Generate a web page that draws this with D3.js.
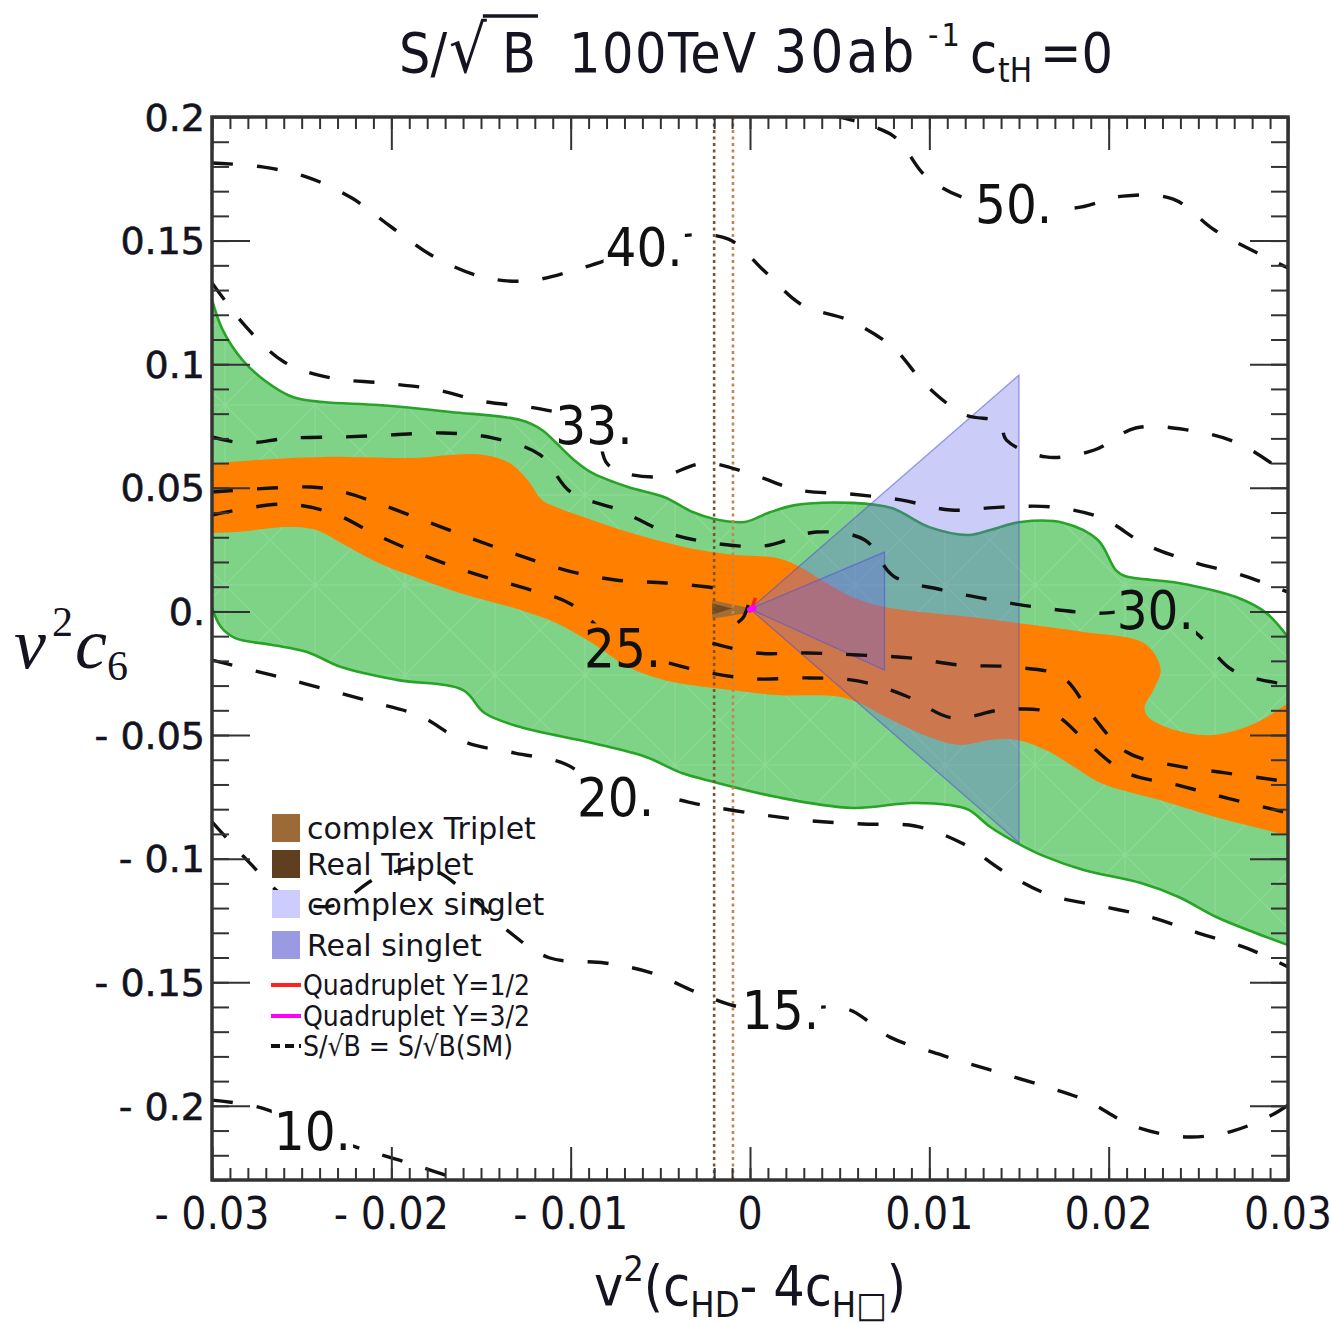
<!DOCTYPE html>
<html><head><meta charset="utf-8">
<script src="https://cdnjs.cloudflare.com/ajax/libs/d3/7.8.5/d3.min.js"></script>
<style>
body{margin:0;background:#fff;}
svg{display:block;}
.cond{font-family:"DejaVu Sans Condensed","DejaVu Sans",sans-serif;font-stretch:condensed;}
</style></head><body>
<svg id="chart" width="1331" height="1324"></svg>
<script>
// ---------------- data ----------------
const xDomain = [-0.03, 0.03];
const yDomain = [-0.23, 0.2];
const xTicks = [-0.03, -0.02, -0.01, 0, 0.01, 0.02, 0.03];
const xTickLabels = ["- 0.03", "- 0.02", "- 0.01", "0", "0.01", "0.02", "0.03"];
const yTicks = [0.2, 0.15, 0.1, 0.05, 0, -0.05, -0.1, -0.15, -0.2];
const yTickLabels = ["0.2", "0.15", "0.1", "0.05", "0.", "- 0.05", "- 0.1", "- 0.15", "- 0.2"];

// band boundaries, all listed left -> right
const greenUpper = [[-0.03,0.1260],[-0.0294,0.1138],[-0.0283,0.1017],[-0.0271,0.0936],[-0.0255,0.0867],[-0.0238,0.0847],[-0.0207,0.0835],[-0.0167,0.0807],[-0.0128,0.0774],[-0.0116,0.0734],[-0.0108,0.0681],[-0.0098,0.0612],[-0.0088,0.0560],[-0.0068,0.0503],[-0.0048,0.0463],[-0.0032,0.0402],[-0.0020,0.0374],[-0.0003,0.0362],[0.0010,0.0398],[0.0025,0.0430],[0.0057,0.0439],[0.0079,0.0418],[0.0100,0.0341],[0.0122,0.0309],[0.0134,0.0329],[0.0151,0.0362],[0.0175,0.0358],[0.0194,0.0289],[0.0204,0.0167],[0.0209,0.0143],[0.0239,0.0115],[0.0271,0.0058],[0.0288,-0.0007],[0.0300,-0.0104]];
const greenLower = [[-0.03,0.0014],[-0.0295,-0.0063],[-0.0287,-0.0108],[-0.0267,-0.0135],[-0.0247,-0.0164],[-0.0228,-0.0225],[-0.0197,-0.0277],[-0.0160,-0.0318],[-0.0148,-0.0411],[-0.0128,-0.0468],[-0.0088,-0.0532],[-0.0058,-0.0589],[-0.0038,-0.0654],[-0.0020,-0.0690],[0.0015,-0.0751],[0.0057,-0.0795],[0.0090,-0.0775],[0.0111,-0.0783],[0.0122,-0.0803],[0.0134,-0.0872],[0.0149,-0.0937],[0.0165,-0.0993],[0.0186,-0.1046],[0.0218,-0.1099],[0.0239,-0.1155],[0.0260,-0.1236],[0.0282,-0.1301],[0.0300,-0.1350]];

const orangeUpper = [[-0.03,0.0599],[-0.0277,0.0612],[-0.0238,0.0625],[-0.0187,0.0621],[-0.0167,0.0633],[-0.0148,0.0633],[-0.0134,0.0600],[-0.0124,0.0532],[-0.0116,0.0451],[-0.0108,0.0422],[-0.0088,0.0370],[-0.0068,0.0321],[-0.0048,0.0281],[-0.0028,0.0248],[-0.0008,0.0228],[0.0015,0.0216],[0.0028,0.0180],[0.0040,0.0127],[0.0057,0.0058],[0.0075,0.0018],[0.0122,-0.0022],[0.0149,-0.0047],[0.0186,-0.0083],[0.0216,-0.0116],[0.0224,-0.0156],[0.0229,-0.0237],[0.0225,-0.0318],[0.0220,-0.0387],[0.0222,-0.0427],[0.0237,-0.0480],[0.0258,-0.0500],[0.0282,-0.0451],[0.0300,-0.0370]];
const orangeLower = [[-0.03,0.0317],[-0.0287,0.0321],[-0.0257,0.0341],[-0.0242,0.0329],[-0.0228,0.0277],[-0.0207,0.0196],[-0.0187,0.0139],[-0.0167,0.0087],[-0.0148,0.0046],[-0.0128,0.0006],[-0.0108,-0.0047],[-0.0088,-0.0128],[-0.0068,-0.0225],[-0.0048,-0.0277],[-0.0020,-0.0310],[0.0015,-0.0338],[0.0053,-0.0350],[0.0079,-0.0439],[0.0100,-0.0508],[0.0117,-0.0540],[0.0134,-0.0520],[0.0149,-0.0520],[0.0165,-0.0561],[0.0181,-0.0630],[0.0196,-0.0695],[0.0229,-0.0764],[0.0260,-0.0833],[0.0300,-0.0906]];

const complexSinglet = [[0.0000,0.0010],[0.0150,0.0956],[0.0150,-0.0936]];
const realSinglet = [[0.0000,0.0010],[0.0075,0.0240],[0.0075,-0.0237]];
const complexTriplet = [[-0.0021,0.0045],[-0.0003,0.0018],[0.0000,0.0008],[-0.0003,-0.0008],[-0.0021,-0.0030]];
const realTriplet = [[-0.0021,0.0032],[-0.0010,0.0012],[-0.0021,-0.0012]];
const quadruplet12 = [[0.0001,0.0010],[0.0003,0.0055]];
const quadruplet32 = [[0.0000,0.0007],[0.0002,0.0013]];
const tripletBounds = [-0.0020, -0.00095];

const contour40 = [[-0.03,0.1814],[-0.0272,0.1798],[-0.0247,0.1757],[-0.0222,0.1672],[-0.0200,0.1555],[-0.0176,0.1434],[-0.0149,0.1353],[-0.0124,0.1337],[-0.0094,0.1389],[-0.0059,0.1474],[-0.0039,0.1519],[-0.0012,0.1506],[0.0008,0.1377],[0.0029,0.1240],[0.0056,0.1175],[0.0080,0.1066],[0.0098,0.0916],[0.0120,0.0795],[0.0139,0.0766],[0.0143,0.0693],[0.0165,0.0625],[0.0192,0.0653],[0.0215,0.0742],[0.0244,0.0734],[0.0272,0.0681],[0.0296,0.0572],[0.0300,0.0548]];
const contour50 = [[0.0047,0.2005],[0.0080,0.1923],[0.0098,0.1761],[0.0120,0.1672],[0.0147,0.1651],[0.0181,0.1632],[0.0208,0.1680],[0.0236,0.1668],[0.0259,0.1543],[0.0284,0.1446],[0.0300,0.1389]];
const contour33 = [[-0.03,0.1329],[-0.0281,0.1151],[-0.0260,0.1010],[-0.0234,0.0945],[-0.0205,0.0924],[-0.0177,0.0900],[-0.0150,0.0851],[-0.0117,0.0819],[-0.0087,0.0754],[-0.0079,0.0592],[-0.0052,0.0544],[-0.0025,0.0600],[0.0002,0.0552],[0.0027,0.0491],[0.0056,0.0475],[0.0084,0.0451],[0.0112,0.0410],[0.0140,0.0422],[0.0169,0.0422],[0.0196,0.0378],[0.0221,0.0269],[0.0247,0.0200],[0.0276,0.0143],[0.0300,0.0078]];
const contour30 = [[-0.03,0.0706],[-0.0282,0.0681],[-0.0257,0.0701],[-0.0226,0.0706],[-0.0200,0.0714],[-0.0171,0.0722],[-0.0143,0.0701],[-0.0117,0.0633],[-0.0100,0.0483],[-0.0073,0.0410],[-0.0047,0.0321],[-0.0021,0.0277],[0.0008,0.0265],[0.0037,0.0321],[0.0064,0.0289],[0.0080,0.0143],[0.0107,0.0087],[0.0135,0.0046],[0.0163,0.0014],[0.0192,-0.0007],[0.0226,-0.0002],[0.0248,-0.0083],[0.0269,-0.0237],[0.0294,-0.0290],[0.0300,-0.0298]];
const contour25a = [[-0.03,0.0483],[-0.0267,0.0499],[-0.0245,0.0503],[-0.0231,0.0491],[-0.0211,0.0447],[-0.0184,0.0374],[-0.0156,0.0297],[-0.0131,0.0232],[-0.0103,0.0167],[-0.0075,0.0127],[-0.0047,0.0115],[-0.0020,0.0095],[-0.0008,0.0078]];
const contour25arc = [[-0.0001,0.0026],[-0.0004,-0.0027],[-0.0009,-0.0055]];
const contour25b = [[-0.0021,-0.0128],[0.0003,-0.0168],[0.0032,-0.0168],[0.0060,-0.0176],[0.0089,-0.0188],[0.0117,-0.0217],[0.0147,-0.0225],[0.0174,-0.0265],[0.0191,-0.0423],[0.0210,-0.0569],[0.0238,-0.0625],[0.0265,-0.0653],[0.0293,-0.0682],[0.0300,-0.0690]];
const contour25c = [[-0.03,0.0390],[-0.0260,0.0434],[-0.0233,0.0398],[-0.0207,0.0305],[-0.0181,0.0224],[-0.0153,0.0151],[-0.0126,0.0095],[-0.0100,0.0030],[-0.0071,-0.0148],[-0.0045,-0.0209],[-0.0022,-0.0249],[0.0003,-0.0273],[0.0032,-0.0269],[0.0060,-0.0281],[0.0087,-0.0342],[0.0113,-0.0431],[0.0141,-0.0398],[0.0168,-0.0411],[0.0190,-0.0544],[0.0210,-0.0653],[0.0238,-0.0702],[0.0266,-0.0755],[0.0293,-0.0803],[0.0300,-0.0815]];
const contour20 = [[-0.03,-0.0197],[-0.0267,-0.0257],[-0.0239,-0.0310],[-0.0211,-0.0366],[-0.0184,-0.0423],[-0.0159,-0.0528],[-0.0131,-0.0573],[-0.0103,-0.0617],[-0.0075,-0.0750],[-0.0050,-0.0750],[-0.0024,-0.0787],[0.0007,-0.0823],[0.0035,-0.0848],[0.0063,-0.0860],[0.0092,-0.0868],[0.0118,-0.0937],[0.0142,-0.1054],[0.0167,-0.1147],[0.0195,-0.1191],[0.0223,-0.1236],[0.0250,-0.1301],[0.0277,-0.1362],[0.0300,-0.1438]];
const contour15 = [[-0.03,-0.0851],[-0.0279,-0.1017],[-0.0258,-0.1159],[-0.0233,-0.1191],[-0.0208,-0.1078],[-0.0180,-0.1038],[-0.0156,-0.1151],[-0.0135,-0.1292],[-0.0112,-0.1401],[-0.0081,-0.1422],[-0.0055,-0.1462],[-0.0029,-0.1543],[-0.0006,-0.1600],[0.0017,-0.1612],[0.0054,-0.1608],[0.0078,-0.1722],[0.0107,-0.1795],[0.0134,-0.1855],[0.0162,-0.1916],[0.0187,-0.1977],[0.0214,-0.2082],[0.0244,-0.2126],[0.0269,-0.2102],[0.0291,-0.2037],[0.0300,-0.1997]];
const contour10 = [[-0.03,-0.1977],[-0.0272,-0.2009],[-0.0244,-0.2098],[-0.0218,-0.2171],[-0.0190,-0.2232],[-0.0163,-0.2300],[-0.0155,-0.2330]];
const contours = [contour40, contour50, contour33, contour30, contour25a, contour25arc, contour25b, contour25c, contour20, contour15, contour10];

const contourLabels = ["40.", "50.", "33.", "30.", "25.", "20.", "15.", "10."];
const contourLabelX = [-0.0059, 0.0147, -0.0087, 0.0226, -0.0071, -0.0075, 0.0017, -0.0244];
const contourLabelY = [0.1474, 0.1651, 0.0754, 0.0006, -0.0148, -0.0750, -0.1612, -0.2098];

const legendLabels = ["complex Triplet", "Real Triplet", "complex singlet", "Real singlet", "Quadruplet Y=1/2", "Quadruplet Y=3/2", "S/\u221AB = S/\u221AB(SM)"];

// ---------------- styles ----------------
const C = {
  green: "#7ed387", greenLine: "#27a327", orange: "#ff8000",
  singlet: "rgb(100,100,235)", singletEdge: "rgb(80,80,215)",
  cTrip: "#9c6a36", rTrip: "#5e3f1f",
  dotA: "#7a5533", dotB: "#c08850",
  quad12: "#ff2020", quad32: "#ff00ff", ink: "#141420", axis: "#333"
};
const legendKinds = ["rect","rect","rect","rect","line","line","dash"];
const legendColors = [C.cTrip, C.rTrip, "#ccccff", "#9a9ae2", C.quad12, C.quad32, "#111"];

// ---------------- setup ----------------
const L = 212, R = 1288, T = 117, B = 1180;
const svg = d3.select("#chart");
const x = d3.scaleLinear().domain(xDomain).range([L, R]);
const y = d3.scaleLinear().domain(yDomain).range([B, T]);
const defs = svg.append("defs");
defs.append("clipPath").attr("id", "clip").append("rect").attr("x", L).attr("y", T).attr("width", R - L).attr("height", B - T);

const smooth = d3.line().x(d => x(d[0])).y(d => y(d[1])).curve(d3.curveCatmullRom.alpha(0.5));
const straight = d3.line().x(d => x(d[0])).y(d => y(d[1]));
function region(up, low) {
  return smooth(up) + smooth(low.slice().reverse()).replace(/^M/, "L") + "Z";
}

const plot = svg.append("g").attr("clip-path", "url(#clip)");

// green band
const greenD = region(greenUpper, greenLower);
plot.append("path").attr("d", greenD).attr("fill", C.green).attr("stroke", "none");
const mesh = defs.append("pattern").attr("id", "mesh").attr("patternUnits", "userSpaceOnUse").attr("width", 90).attr("height", 90);
mesh.append("path").attr("d", "M0,0L90,90M90,0L0,90M45,0V90M0,45H90").attr("stroke", "#ffffff").attr("stroke-opacity", 0.13).attr("stroke-width", 1.2);
plot.append("path").attr("d", greenD).attr("fill", "url(#mesh)");
plot.append("path").attr("d", smooth(greenUpper)).attr("fill", "none").attr("stroke", C.greenLine).attr("stroke-width", 2.6);
plot.append("path").attr("d", smooth(greenLower)).attr("fill", "none").attr("stroke", C.greenLine).attr("stroke-width", 2.6);

// orange band
plot.append("path").attr("d", region(orangeUpper, orangeLower)).attr("fill", C.orange);

// singlet triangles
[complexSinglet, realSinglet].forEach(tri => {
  plot.append("path").attr("d", straight(tri) + "Z")
    .attr("fill", C.singlet).attr("fill-opacity", 0.33)
    .attr("stroke", C.singletEdge).attr("stroke-opacity", 0.55).attr("stroke-width", 1.3);
});

// triplets
plot.append("path").attr("d", straight(complexTriplet) + "Z").attr("fill", C.cTrip).attr("fill-opacity", 0.9);
plot.append("path").attr("d", straight(realTriplet) + "Z").attr("fill", C.rTrip).attr("fill-opacity", 0.75);

// dotted triplet bounds
tripletBounds.forEach((v, i) => {
  plot.append("line").attr("x1", x(v)).attr("x2", x(v)).attr("y1", T).attr("y2", B)
    .attr("stroke", i === 0 ? C.dotA : C.dotB).attr("stroke-width", 2.6).attr("stroke-dasharray", "3,3.5");
});

// contours (masked around labels)
const contourG = plot.append("g").attr("mask", "url(#lblmask)");
contours.forEach(c => {
  contourG.append("path").attr("d", smooth(c)).attr("fill", "none")
    .attr("stroke", "#111").attr("stroke-width", 3.4).attr("stroke-dasharray", "21,24");
});

// quadruplets
plot.append("path").attr("d", straight(quadruplet12)).attr("stroke", C.quad12).attr("stroke-width", 3.5).attr("fill", "none");
plot.append("path").attr("d", straight(quadruplet32)).attr("stroke", C.quad32).attr("stroke-width", 6).attr("stroke-linecap", "round").attr("fill", "none");

// contour labels
const lblG = svg.append("g").attr("class", "cond").attr("font-size", 54).attr("fill", "#111");
const lbls = lblG.selectAll("text").data(contourLabels).join("text")
  .attr("x", (d, i) => x(contourLabelX[i])).attr("y", (d, i) => y(contourLabelY[i]))
  .attr("text-anchor", "middle").attr("dy", "0.36em").text(d => d);
const mask = defs.append("mask").attr("id", "lblmask").attr("maskUnits", "userSpaceOnUse")
  .attr("x", 0).attr("y", 0).attr("width", 1331).attr("height", 1324);
mask.append("rect").attr("x", 0).attr("y", 0).attr("width", 1331).attr("height", 1324).attr("fill", "white");
lbls.each(function () {
  const b = this.getBBox();
  mask.append("rect").attr("x", b.x - 2).attr("y", b.y + 6).attr("width", b.width + 4).attr("height", b.height - 12).attr("fill", "black");
});

// ---------------- axes ----------------
const xMinor = d3.range(-30, 31).map(v => v / 1000);
const yMinor = d3.range(-23, 21).map(v => v / 100);
function clean(g) { g.select(".domain").remove(); g.selectAll("line").attr("stroke", C.axis).attr("stroke-width", 2); g.selectAll("text").remove(); }
svg.append("g").attr("transform", `translate(0,${B})`).call(d3.axisBottom(x).tickValues(xMinor).tickSize(-12)).call(clean);
svg.append("g").attr("transform", `translate(0,${B})`).call(d3.axisBottom(x).tickValues(xTicks).tickSize(-33)).call(clean);
svg.append("g").attr("transform", `translate(0,${T})`).call(d3.axisTop(x).tickValues(xMinor).tickSize(-12)).call(clean);
svg.append("g").attr("transform", `translate(0,${T})`).call(d3.axisTop(x).tickValues(xTicks).tickSize(-33)).call(clean);
svg.append("g").attr("transform", `translate(${L},0)`).call(d3.axisLeft(y).tickValues(yMinor).tickSize(-17)).call(clean);
svg.append("g").attr("transform", `translate(${L},0)`).call(d3.axisLeft(y).tickValues(yTicks).tickSize(-38)).call(clean);
svg.append("g").attr("transform", `translate(${R},0)`).call(d3.axisRight(y).tickValues(yMinor).tickSize(-17)).call(clean);
svg.append("g").attr("transform", `translate(${R},0)`).call(d3.axisRight(y).tickValues(yTicks).tickSize(-38)).call(clean);
svg.append("rect").attr("x", L).attr("y", T).attr("width", R - L).attr("height", B - T)
  .attr("fill", "none").attr("stroke", C.axis).attr("stroke-width", 3.5);

// tick labels
svg.append("g").attr("class", "cond").attr("font-size", 44).attr("fill", C.ink)
  .selectAll("text").data(xTicks).join("text")
  .attr("x", d => x(d)).attr("y", 1229).attr("text-anchor", "middle").text((d, i) => xTickLabels[i]);
svg.append("g").attr("font-family", "DejaVu Sans, sans-serif").attr("font-size", 38).attr("fill", C.ink)
  .attr("stroke", C.ink).attr("stroke-width", 0.6)
  .selectAll("text").data(yTicks).join("text")
  .attr("x", 205).attr("y", d => y(d)).attr("dy", "0.36em").attr("text-anchor", "end").text((d, i) => yTickLabels[i]);

// ---------------- title ----------------
const title = svg.append("text").attr("class", "cond").attr("y", 72).attr("font-size", 55).attr("fill", C.ink);
title.append("tspan").attr("x", 399).text("S/");
title.append("tspan").attr("x", 449).attr("font-size", 66).text("\u221A");
title.append("tspan").attr("x", 502).text("B");
title.append("tspan").attr("x", 569).attr("letter-spacing", 1.5).text("100TeV");
title.append("tspan").attr("x", 774).attr("font-size", 58).attr("letter-spacing", 3).text("30ab");
title.append("tspan").attr("x", 928).attr("font-size", 32).attr("dy", -26).attr("letter-spacing", 3).text("-1");
title.append("tspan").attr("x", 970).attr("dy", 26).text("c");
title.append("tspan").attr("x", 998).attr("font-size", 33).attr("dy", 10).text("tH");
title.append("tspan").attr("x", 1040).attr("dy", -10).text("=0");
{
  const n = title.node();
  const e2 = n.getExtentOfChar(2), e3 = n.getExtentOfChar(3);
  svg.append("line").attr("x1", e2.x + e2.width - 4).attr("x2", e3.x + e3.width + 2)
    .attr("y1", e2.y + 5).attr("y2", e2.y + 5).attr("stroke", C.ink).attr("stroke-width", 3.5);
}

// x-axis label
const xl = svg.append("text").attr("class", "cond").attr("y", 1305).attr("font-size", 55).attr("fill", C.ink);
xl.append("tspan").text("v");
xl.append("tspan").attr("font-size", 36).attr("dy", -24).text("2");
xl.append("tspan").attr("dy", 24).text("(c");
xl.append("tspan").attr("font-size", 36).attr("dy", 12).text("HD");
xl.append("tspan").attr("dy", -12).text("- 4c");
xl.append("tspan").attr("font-size", 36).attr("dy", 12).text("H\u25A1");
xl.append("tspan").attr("dy", -12).text(")");
{
  const w = xl.node().getComputedTextLength();
  xl.attr("x", 750 - w / 2);
}

// y-axis label
const yl = svg.append("text").attr("x", 14).attr("y", 668).attr("font-family", "Liberation Serif, DejaVu Serif, serif")
  .attr("font-style", "italic").attr("font-size", 72).attr("fill", C.ink);
yl.append("tspan").text("v");
yl.append("tspan").attr("font-size", 42).attr("font-style", "normal").attr("dy", -32).attr("dx", 6).text("2");
yl.append("tspan").attr("dy", 32).attr("dx", 2).text("c");
yl.append("tspan").attr("font-size", 42).attr("font-style", "normal").attr("dy", 12).text("6");

// ---------------- legend ----------------
const legY = [828, 864, 904, 945, 985, 1016, 1046];
const leg = svg.append("g");
legendLabels.forEach((lab, i) => {
  const yy = legY[i];
  const k = legendKinds[i];
  if (k === "rect") {
    leg.append("rect").attr("x", 272).attr("y", yy - 14).attr("width", 28).attr("height", 28).attr("fill", legendColors[i]);
    leg.append("text").attr("x", 307).attr("y", yy).attr("dy", "0.36em").attr("font-family", "DejaVu Sans, sans-serif")
      .attr("font-size", 30).attr("fill", C.ink).text(lab);
  } else {
    leg.append("line").attr("x1", 271).attr("x2", 301).attr("y1", yy).attr("y2", yy)
      .attr("stroke", legendColors[i]).attr("stroke-width", 4)
      .attr("stroke-dasharray", k === "dash" ? "9,5" : null);
    leg.append("text").attr("class", "cond").attr("x", 303).attr("y", yy).attr("dy", "0.36em")
      .attr("font-size", 28).attr("fill", C.ink).text(lab);
  }
});
</script>
</body></html>
